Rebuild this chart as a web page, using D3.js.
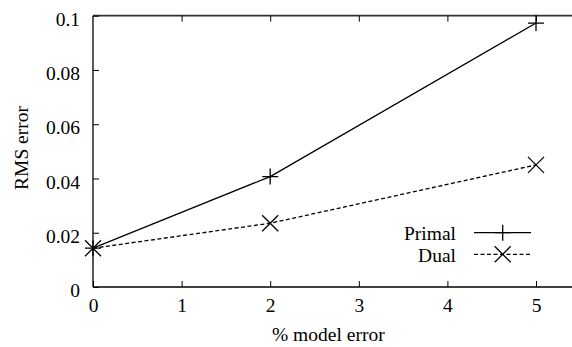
<!DOCTYPE html>
<html><head><meta charset="utf-8">
<script src="https://cdn.jsdelivr.net/npm/d3@7"></script>
</head><body style="margin:0;background:#fff"><svg id="c" width="572" height="347"></svg>
<script>
const xVals = [0, 2, 5];
const primal = [0.0143, 0.0407, 0.0973];
const dual = [0.0143, 0.0235, 0.045];
const xTicks = [0, 1, 2, 3, 4, 5];
const yTicks = [0, 0.02, 0.04, 0.06, 0.08, 0.1];
const seriesNames = ["Primal", "Dual"];

const FONT = "Times New Roman";
const fs = 19.5;
const svg = d3.select("#c");
const x = d3.scaleLinear().domain([0, 5]).range([93, 536]);
const y = d3.scaleLinear().domain([0, 0.1]).range([287, 15.7]);

// frame
svg.append("line").attr("x1", 93).attr("x2", 572).attr("y1", y(0)).attr("y2", y(0)).attr("stroke", "#000").attr("stroke-width", 1.3);
svg.append("line").attr("x1", 93).attr("x2", 572).attr("y1", y(0.1)).attr("y2", y(0.1)).attr("stroke", "#333").attr("stroke-width", 1.8);
svg.append("line").attr("x1", 93).attr("x2", 93).attr("y1", y(0)).attr("y2", y(0.1)).attr("stroke", "#000").attr("stroke-width", 1.3);

// y ticks
const gy = svg.append("g").attr("transform", "translate(93,0)")
  .call(d3.axisLeft(y).tickValues(yTicks).tickSize(-6).tickPadding(13).tickFormat(d => d === 0 ? "0" : String(+d.toFixed(2))));
gy.attr("font-family", FONT).attr("font-size", fs);
gy.select(".domain").remove();
gy.selectAll("line").attr("stroke", "#000");
gy.selectAll("text").attr("dy", "0.49em");

// x ticks bottom
const gx = svg.append("g").attr("transform", `translate(0,${y(0)})`)
  .call(d3.axisBottom(x).tickValues(xTicks).tickSize(-6).tickPadding(11).tickFormat(d3.format("d")));
gx.attr("font-family", FONT).attr("font-size", fs);
gx.select(".domain").remove();
gx.selectAll("line").attr("stroke", "#000");

// x ticks top (mirror)
const gxt = svg.append("g").attr("transform", `translate(0,${y(0.1)})`)
  .call(d3.axisTop(x).tickValues(xTicks.slice(1)).tickSize(-6).tickFormat(""));
gxt.select(".domain").remove();
gxt.selectAll("line").attr("stroke", "#000");

// labels
svg.append("text").attr("x", 272).attr("y", 341).attr("font-family", FONT).attr("font-size", fs).text("% model error");
svg.append("text").attr("transform", "translate(28,148) rotate(-90)").attr("text-anchor", "middle").attr("font-family", FONT).attr("font-size", fs).text("RMS error");

// lines
const line = d3.line().x((d, i) => x(xVals[i])).y(d => y(d));
svg.append("path").datum(primal).attr("d", line).attr("fill", "none").attr("stroke", "#000").attr("stroke-width", 1.3);
svg.append("path").datum(dual).attr("d", line).attr("fill", "none").attr("stroke", "#000").attr("stroke-width", 1.3).attr("stroke-dasharray", "4,2.5");

const m = 8;
function plus(g, cx, cy) {
  g.append("path").attr("d", `M${cx - m},${cy}H${cx + m}M${cx},${cy - m}V${cy + m}`).attr("stroke", "#000").attr("stroke-width", 1.3).attr("fill", "none");
}
function cross(g, cx, cy) {
  g.append("path").attr("d", `M${cx - m},${cy - m}L${cx + m},${cy + m}M${cx - m},${cy + m}L${cx + m},${cy - m}`).attr("stroke", "#000").attr("stroke-width", 1.3).attr("fill", "none");
}
primal.forEach((v, i) => plus(svg, x(xVals[i]), y(v)));
dual.forEach((v, i) => cross(svg, x(xVals[i]), y(v)));

// legend
const leg = [{name: seriesNames[0], ly: 232.7, dash: null, mk: plus}, {name: seriesNames[1], ly: 254.3, dash: "4,2.5", mk: cross}];
leg.forEach(l => {
  svg.append("text").attr("x", 456).attr("y", l.ly + 7.4).attr("text-anchor", "end").attr("font-family", FONT).attr("font-size", fs).text(l.name);
  const p = svg.append("line").attr("x1", 474).attr("x2", 531).attr("y1", l.ly).attr("y2", l.ly).attr("stroke", "#000").attr("stroke-width", 1.3);
  if (l.dash) p.attr("stroke-dasharray", l.dash);
  l.mk(svg, 502.7, l.ly);
});
</script></body></html>
